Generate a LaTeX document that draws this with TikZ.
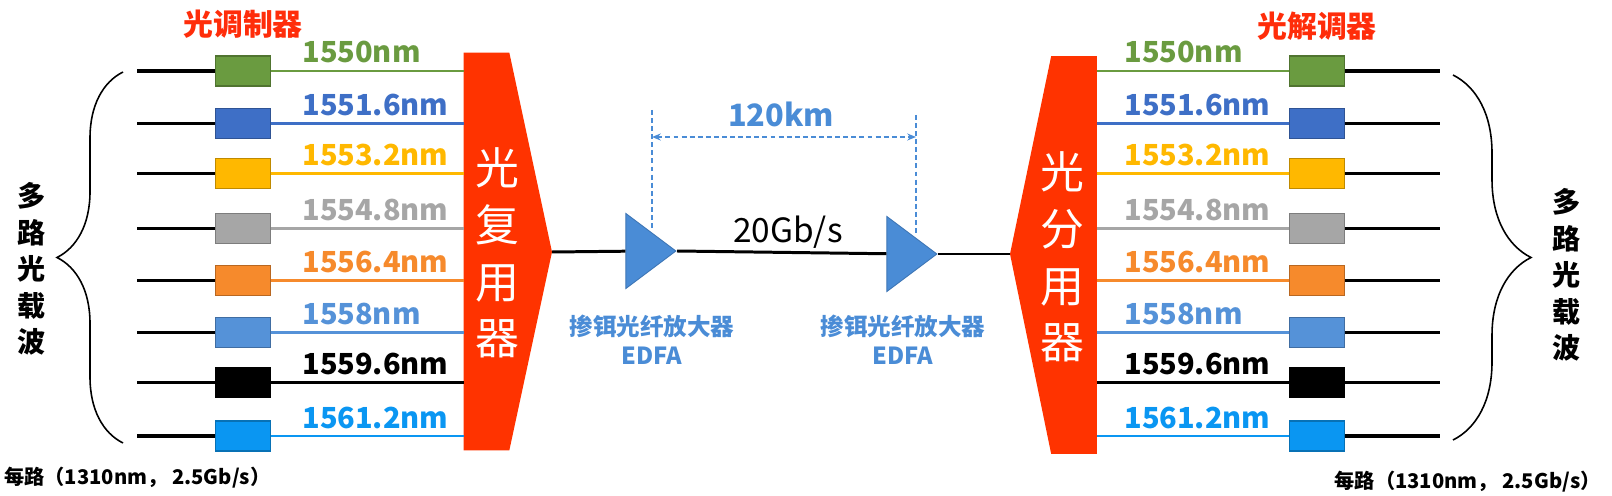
\documentclass[tikz,border=0pt]{standalone}
\usepackage{fontspec}
\setmainfont{Noto Sans CJK SC}
\usetikzlibrary{arrows.meta,positioning,shapes.geometric,decorations.pathreplacing}
\definecolor{wgreen}{HTML}{6A9B40}
\definecolor{wblue}{HTML}{3E6FC6}
\definecolor{wgold}{HTML}{FFB800}
\definecolor{wgray}{HTML}{A6A6A6}
\definecolor{worange}{HTML}{F68A2C}
\definecolor{wsky}{HTML}{5592D8}
\definecolor{wcyan}{HTML}{0A96F2}
\definecolor{muxred}{HTML}{FF3300}
\definecolor{titlered}{HTML}{FF2D0A}
\definecolor{edfablue}{HTML}{4A8CD6}
\tikzset{
  modbox/.style={draw=#1!75!black, fill=#1, line width=0.6pt,
    minimum width=1.1cm, minimum height=0.6cm, inner sep=0pt},
  fibre/.style={draw=#1, line width=1.4pt},
  feed/.style={draw=black, line width=1.8pt},
  trunk/.style={draw=black, line width=1.7pt},
  wlabel/.style={font=\fontsize{16.5}{18}\selectfont\bfseries,
    anchor=base west, inner sep=0pt},
  muxbody/.style={inner sep=0pt, minimum width=0.9cm, minimum height=7.94cm},
  muxtext/.style={text=white, align=center, inner sep=0pt,
    font=\fontsize{25}{32.3}\selectfont},
  amp/.style={isosceles triangle, isosceles triangle stretches,
    shape border rotate=0, fill=edfablue, draw=edfablue!85!black,
    line width=0.5pt, minimum width=1.5cm, minimum height=1cm, inner sep=0pt},
  redtitle/.style={text=titlered, inner sep=0pt,
    font=\fontsize{17}{19}\selectfont\bfseries},
  sidetext/.style={align=center, inner sep=0pt,
    font=\fontsize{16}{20.7}\selectfont\bfseries},
  edfatext/.style={text=edfablue, align=center, inner sep=0pt,
    font=\fontsize{13.4}{16}\selectfont\bfseries},
  note/.style={inner sep=0pt, font=\fontsize{11.5}{14}\selectfont\bfseries},
  dimline/.style={draw=edfablue, line width=0.8pt, dash pattern=on 2.8pt off 1.8pt},
  arrw/.style={{Stealth[length=5pt,width=4pt]}-{Stealth[length=5pt,width=4pt]}},
  carrier/.style={draw=black, line width=0.9pt},
}
\begin{document}
\begin{tikzpicture}[x=0.02cm, y=-0.02cm]
  \useasboundingbox (0,0) rectangle (1612,496);

  % multiplexer and demultiplexer
  \node[muxbody] (mux) at (486.5,251.5) {};
  \coordinate (muxtip) at (552,252);
  \fill[muxred] (mux.north west) -- (mux.north east) -- (muxtip)
    -- (mux.south east) -- (mux.south west) -- cycle;
  \node[muxtext] (muxlabel) at (497,253) {光\\复\\用\\器};

  \node[muxbody] (demux) at (1074,255) {};
  \coordinate (demuxtip) at (1010,254);
  \fill[muxred] (demux.north east) -- (demux.north west) -- (demuxtip)
    -- (demux.south west) -- (demux.south east) -- cycle;
  \node[muxtext] (demuxlabel) at (1062,257) {光\\分\\用\\器};

  % channels
  \foreach \y/\col/\wl [count=\i] in {71/wgreen/1550nm, 123.5/wblue/1551.6nm,
      173.5/wgold/1553.2nm, 228.5/wgray/1554.8nm, 280.5/worange/1556.4nm,
      332.5/wsky/1558nm, 382.5/black/1559.6nm, 436/wcyan/1561.2nm} {
    \node[modbox=\col] (mod\i) at (243,\y) {};
    \node[modbox=\col] (dem\i) at (1317,\y) {};
    \coordinate (in\i) at (137,\y);
    \coordinate (out\i) at (1440,\y);
    \draw[feed] (in\i) -- (mod\i);
    \draw[fibre=\col] (mod\i) -- (mod\i -| mux.west);
    \draw[fibre=\col] (demux.east |- dem\i) -- (dem\i);
    \draw[feed] (dem\i) -- (out\i);
    \node[wlabel, text=\col] (wlL\i) at (302,\y-8) {\wl};
    \node[wlabel, text=\col] (wlR\i) at (1124,\y-8) {\wl};
  }

  \node[redtitle, above=0.34cm of mod1] (modtitle) {光调制器};
  \node[redtitle, above=0.3cm of dem1] (demtitle) {光解调器};

  % amplified link
  \node[amp, anchor=apex] (amp1) at (677,251) {};
  \node[amp, anchor=apex] (amp2) at (938,254) {};
  \draw[trunk] (muxtip) -- (amp1);
  \draw[trunk] (amp1.apex) -- (amp2);
  \draw[trunk] (amp2.apex) -- (demuxtip);
  \node[font=\fontsize{19}{21}\selectfont, inner sep=0pt] (rate) at (788,232) {20Gb/s};

  \node[edfatext, anchor=north] (edfa1) at (652,315) {掺铒光纤放大器\\EDFA};
  \node[edfatext, anchor=north] (edfa2) at (903,315) {掺铒光纤放大器\\EDFA};

  \coordinate (spanL) at (652,110);
  \coordinate (spanR) at (916,115);
  \draw[dimline] (spanL) -- (652,231);
  \draw[dimline] (spanR) -- (916,233);
  \draw[dimline, arrw] (spanL |- 0,137) -- (spanR |- 0,137);
  \node[text=edfablue, inner sep=0pt, font=\fontsize{17.5}{19}\selectfont\bfseries]
    (span) at (781,114) {120km};

  % carrier groups
  \draw[carrier, decorate, decoration={brace, amplitude=1.32cm, mirror}]
    (123,72) -- (123,443);
  \draw[carrier, decorate, decoration={brace, amplitude=1.56cm}]
    (1453,75) -- (1453,440);
  \node[sidetext] (inL) at (32,269) {多\\路\\光\\载\\波};
  \node[sidetext] (outR) at (1567,275) {多\\路\\光\\载\\波};

  \node[note, anchor=west] (noteL) at (4,478) {每路（1310nm， 2.5Gb/s）};
  \node[note, anchor=east] (noteR) at (1601,482) {每路（1310nm， 2.5Gb/s）};
\end{tikzpicture}
\end{document}
